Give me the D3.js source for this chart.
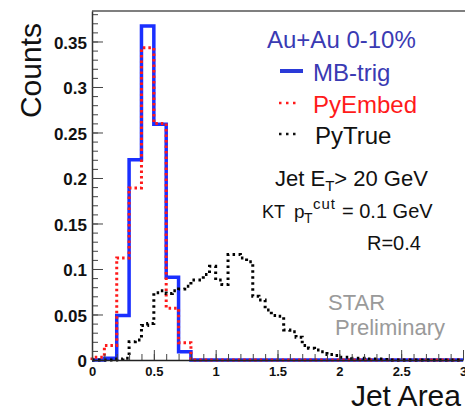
<!DOCTYPE html>
<html>
<head>
<meta charset="utf-8">
<script src="https://cdn.jsdelivr.net/npm/d3@7"></script>
<style>
  html, body { margin: 0; padding: 0; background: #fff; }
  svg { display: block; font-family: "Liberation Sans", Arial, sans-serif; }
</style>
</head>
<body>
<div id="chart"></div>
<script>
// ------------------------------------
// Data
// ------------------------------------
const binWide = 0.1;    // MB-trig / PyEmbed bin width
const binNarrow = 0.05; // PyTrue bin width

// 0.1 wide bins starting at 0
const mbTrig = [0.0, 0.002, 0.049, 0.220, 0.367, 0.259, 0.091, 0.009,
  0, 0, 0, 0, 0, 0, 0, 0, 0, 0, 0, 0, 0, 0, 0, 0, 0, 0, 0, 0, 0, 0];
const pyEmbed = [0.003, 0.016, 0.112, 0.189, 0.343, 0.260, 0.057, 0.019,
  0, 0, 0, 0, 0, 0, 0, 0, 0, 0, 0, 0, 0, 0, 0, 0, 0, 0, 0, 0, 0, 0];

// 0.05 wide bins starting at 0
const pyTrue = [0, 0, 0, 0, 0.001, 0.002, 0.020, 0.022, 0.038, 0.040,
  0.074, 0.076, 0.073, 0.076, 0.078, 0.081, 0.088, 0.088, 0.094, 0.103,
  0.088, 0.083, 0.116, 0.116, 0.112, 0.108, 0.070, 0.066, 0.055, 0.049,
  0.048, 0.033, 0.031, 0.025, 0.016, 0.013, 0.011, 0.009, 0.006, 0.005,
  0.003, 0.003, 0.002, 0.002, 0.001, 0.001, 0.001, 0.0005, 0, 0,
  0, 0, 0, 0, 0, 0, 0, 0, 0, 0];

const yTicks = [0, 0.05, 0.1, 0.15, 0.2, 0.25, 0.3, 0.35];
const xTicks = [0, 0.5, 1, 1.5, 2, 2.5, 3];

// ------------------------------------
// Build chart
// ------------------------------------
const width = 465, height = 410;

const svg = d3.select("#chart").append("svg")
    .attr("width", width)
    .attr("height", height);

const x = d3.scaleLinear().domain([0, 3]).range([92, 463]);
const y = d3.scaleLinear().domain([0, 0.3835]).range([360, 11]);

// histogram -> step outline
function steps(vals, w) {
  const pts = [[0, 0]];
  vals.forEach((v, i) => {
    pts.push([i * w, v]);
    pts.push([(i + 1) * w, v]);
  });
  pts.push([vals.length * w, 0]);
  return pts;
}

const line = d3.line().x(d => x(d[0])).y(d => y(d[1]));

// top frame
svg.append("line")
    .attr("x1", x(0)).attr("x2", width)
    .attr("y1", y.range()[1]).attr("y2", y.range()[1])
    .attr("stroke", "#555").attr("stroke-width", 1.6);

// histograms
svg.append("path")
    .attr("d", line(steps(mbTrig, binWide)))
    .attr("fill", "none")
    .attr("stroke", "#1a2fff")
    .attr("stroke-width", 3.5);

svg.append("path")
    .attr("d", line(steps(pyEmbed, binWide)))
    .attr("fill", "none")
    .attr("stroke", "#ff1a1a")
    .attr("stroke-width", 3)
    .attr("stroke-dasharray", "2.5,3");

svg.append("path")
    .attr("d", line(steps(pyTrue, binNarrow)))
    .attr("fill", "none")
    .attr("stroke", "#000")
    .attr("stroke-width", 3)
    .attr("stroke-dasharray", "2.5,3.5");

// --------- AXES ----------
const yMinor = d3.range(0, 0.381, 0.01);
const xMinor = d3.range(0, 3.001, 0.1);

svg.append("g")
    .attr("transform", `translate(${x(0)},0)`)
    .call(d3.axisLeft(y).tickValues(yMinor).tickSize(-6).tickFormat(""))
    .call(g => g.select(".domain").remove())
    .selectAll("line").attr("stroke", "#444");

const yAxis = svg.append("g")
    .attr("transform", `translate(${x(0)},0)`)
    .call(d3.axisLeft(y).tickValues(yTicks).tickSize(-11).tickSizeOuter(0)
        .tickPadding(5).tickFormat(d3.format("~g")));
yAxis.select(".domain").attr("stroke", "#333").attr("stroke-width", 1.5);
yAxis.selectAll("line").attr("stroke", "#444");
yAxis.selectAll("text")
    .attr("font-family", "Liberation Sans, Arial, sans-serif")
    .attr("font-size", 17).attr("font-weight", "bold")
    .attr("fill", "#111").attr("dy", "0.4em");

svg.append("g")
    .attr("transform", `translate(0,${y(0)})`)
    .call(d3.axisBottom(x).tickValues(xMinor).tickSize(-6).tickFormat(""))
    .call(g => g.select(".domain").remove())
    .selectAll("line").attr("stroke", "#444");

const xAxis = svg.append("g")
    .attr("transform", `translate(0,${y(0)})`)
    .call(d3.axisBottom(x).tickValues(xTicks).tickSize(-10).tickSizeOuter(0)
        .tickPadding(7).tickFormat(d3.format("~g")));
xAxis.select(".domain").attr("stroke", "#222").attr("stroke-width", 1.5);
xAxis.selectAll("line").attr("stroke", "#444");
xAxis.selectAll("text")
    .attr("font-family", "Liberation Sans, Arial, sans-serif")
    .attr("font-size", 13).attr("font-weight", "bold")
    .attr("fill", "#111");

// axis titles
svg.append("text")
    .attr("transform", "translate(41,23) rotate(-90)")
    .attr("text-anchor", "end")
    .attr("font-size", 30)
    .attr("fill", "#111")
    .text("Counts");

svg.append("text")
    .attr("x", 461).attr("y", 406)
    .attr("text-anchor", "end")
    .attr("font-size", 30)
    .attr("fill", "#111")
    .text("Jet Area");

// --------- LEGEND + LABELS ----------
svg.append("text")
    .attr("x", 267).attr("y", 48)
    .attr("font-size", 24).attr("fill", "#3a3ab3")
    .text("Au+Au 0-10%");

const legend = [
  { label: "MB-trig", color: "#3a3ab3", stroke: "#2a3ad8", dash: null, w: 4, y: 81, lx: 313 },
  { label: "PyEmbed", color: "#ff1a1a", stroke: "#ff1a1a", dash: "2.5,4.5", w: 2.5, y: 113, lx: 313 },
  { label: "PyTrue", color: "#111", stroke: "#111", dash: "2.5,4.5", w: 2.5, y: 144, lx: 315 }
];

legend.forEach(d => {
  svg.append("line")
      .attr("x1", d.dash ? 279 : 280).attr("x2", d.dash ? 298 : 303)
      .attr("y1", d.y - 10).attr("y2", d.y - 10)
      .attr("stroke", d.stroke)
      .attr("stroke-width", d.w)
      .attr("stroke-dasharray", d.dash);
  svg.append("text")
      .attr("x", d.lx).attr("y", d.y)
      .attr("font-size", 24).attr("fill", d.color)
      .text(d.label);
});

const t1 = svg.append("text")
    .attr("x", 275).attr("y", 186)
    .attr("font-size", 22).attr("fill", "#111");
t1.append("tspan").text("Jet E");
t1.append("tspan").attr("font-size", 15).attr("dy", 5).text("T");
t1.append("tspan").attr("dy", -5).text("> 20 GeV");

// KT  pT^cut = 0.1 GeV, pieces placed at the reference positions
const kt = svg.append("g").attr("fill", "#111");
kt.append("text").attr("x", 262).attr("y", 218).attr("font-size", 18).text("KT");
kt.append("text").attr("x", 294).attr("y", 218).attr("font-size", 19).text("p");
kt.append("text").attr("x", 304).attr("y", 223).attr("font-size", 14).text("T");
kt.append("text").attr("x", 313).attr("y", 209).attr("font-size", 15)
    .attr("letter-spacing", 1).text("cut");
kt.append("text").attr("x", 342).attr("y", 218).attr("font-size", 20)
    .text("= 0.1 GeV");

svg.append("text")
    .attr("x", 367).attr("y", 250)
    .attr("font-size", 20).attr("fill", "#111")
    .text("R=0.4");

svg.append("text")
    .attr("x", 328).attr("y", 310)
    .attr("font-size", 22).attr("fill", "#9a9a9a")
    .text("STAR");

svg.append("text")
    .attr("x", 335).attr("y", 335)
    .attr("font-size", 22).attr("fill", "#9a9a9a")
    .text("Preliminary");
</script>
</body>
</html>
